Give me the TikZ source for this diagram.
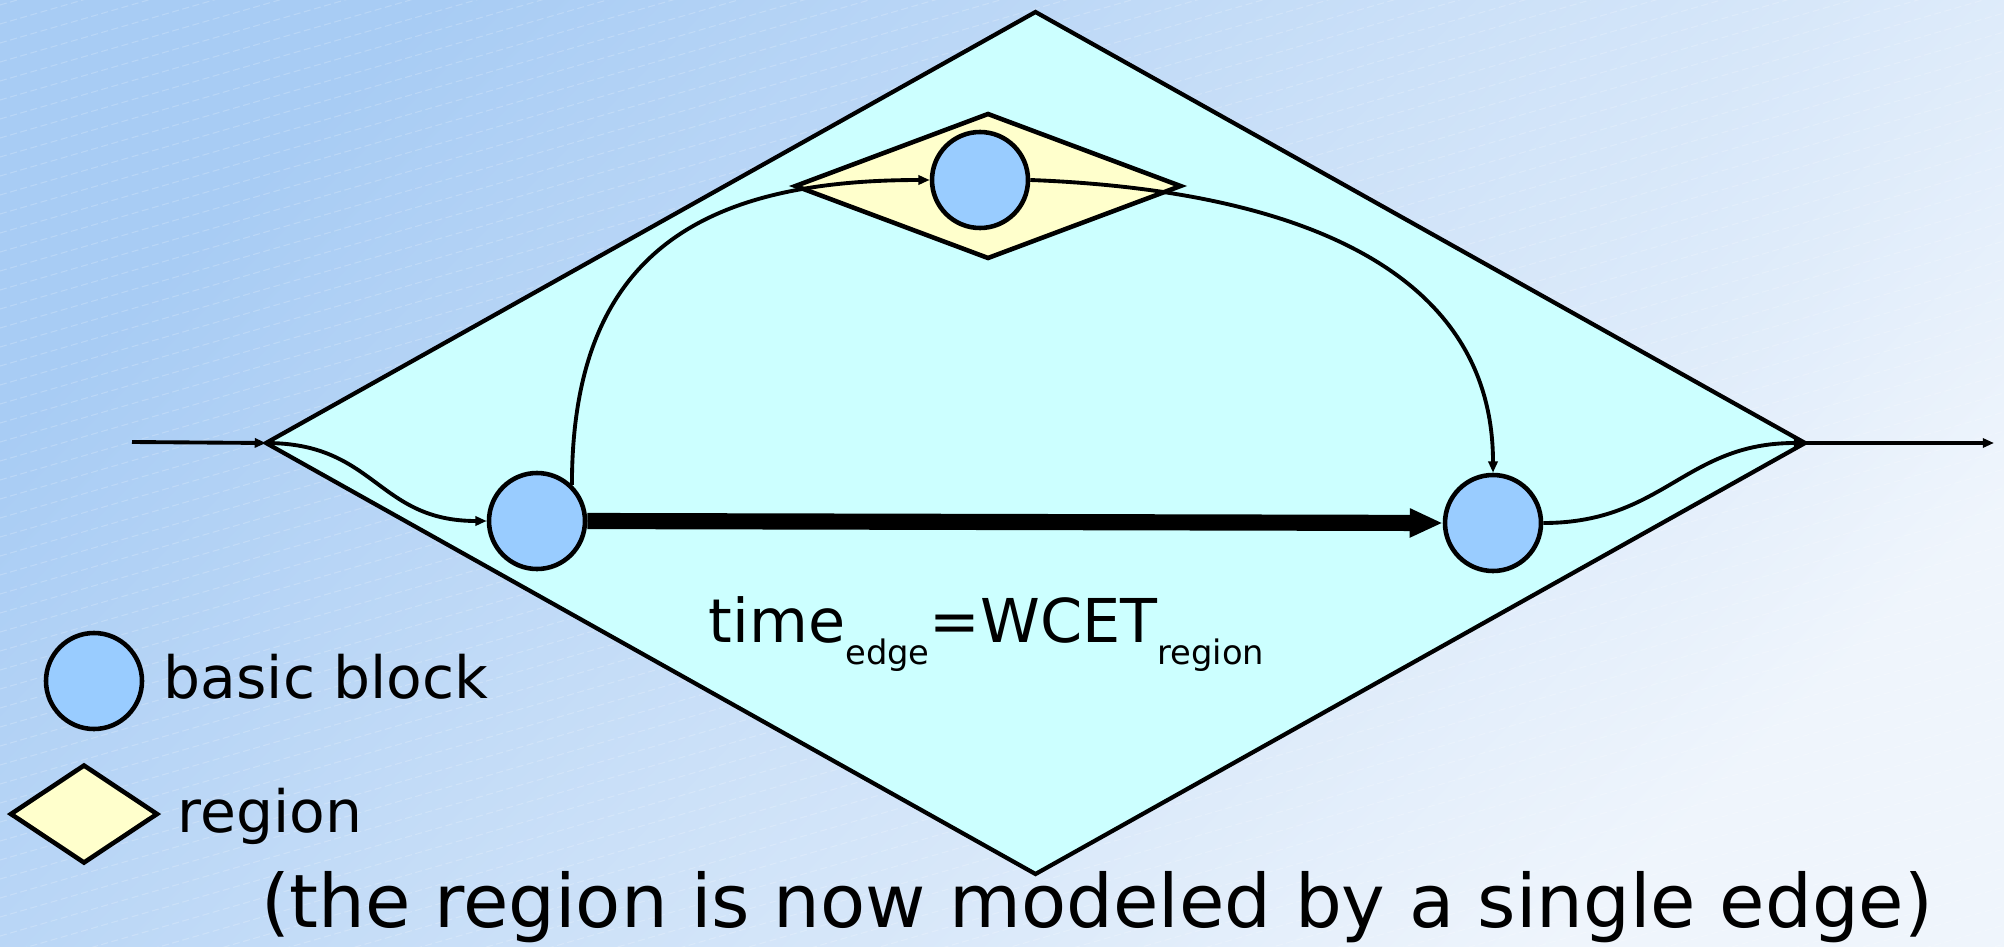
\documentclass[tikz,border=0pt]{standalone}
\usepackage{fontspec}
\setmainfont{DejaVu Sans}
\usepackage{xcolor}
\usepackage{tikz}
\usetikzlibrary{shapes.geometric, arrows.meta, positioning}

\definecolor{bgtop}{HTML}{A8CCF4}
\definecolor{bgbot}{HTML}{EFF5FC}
\definecolor{outerfill}{HTML}{CCFFFF}
\definecolor{regionfill}{HTML}{FFFFCC}
\definecolor{blockfill}{HTML}{99CCFF}

\newcommand{\lowsub}[1]{\raisebox{-6.5pt}{\fontsize{9.6}{10}\selectfont #1}}

\begin{document}
\begin{tikzpicture}[
        blocknode/.style={circle, draw=black, fill=blockfill, line width=1.3pt, minimum size=0.96cm, inner sep=0pt},
        regionnode/.style={diamond, draw=black, fill=regionfill, line width=1.3pt, inner sep=0pt, outer sep=0pt},
        outernode/.style={diamond, draw=black, fill=outerfill, line width=1.2pt, inner sep=0pt, outer sep=0pt, minimum width=15.39cm, minimum height=8.62cm},
        flowline/.style={line width=1.1pt, -{Triangle[length=3.2pt, width=2.6pt]}},
        wcetarrow/.style={line width=4.6pt, -{Triangle[length=0.33cm, width=0.27cm]}},
        legendtext/.style={anchor=base west, inner sep=0pt, font=\fontsize{16.6}{20}\selectfont},
        bgline/.style={white, opacity=0.2, line width=0.3pt, dash pattern=on 2pt off 1pt}
    ]
        % Background
        \useasboundingbox (0,0) rectangle (20.04,9.46);
        \shade[top color=bgtop, bottom color=bgbot, shading angle=45] (0,0) rectangle (20.04,9.46);
        \begin{scope}
            \clip (0,0) rectangle (20.04,9.46);
            \foreach \k in {0,...,82}
                \draw[bgline] (0,9.6-0.19*\k) -- ++(20.04,5.81);
        \end{scope}

        % Collapsed region
        \node[outernode] (outer) at (10.355,5.03) {};
        \node[regionnode, minimum width=3.85cm, minimum height=1.44cm] (rgn) at (9.88,7.60) {};

        % Basic blocks
        \node[blocknode] (bbT) at (9.80,7.66) {};
        \node[blocknode] (bbA) at (5.37,4.25) {};
        \node[blocknode] (bbB) at (14.93,4.23) {};

        % Legend
        \node[blocknode] (keyblock) at (0.94,2.65) {};
        \node[regionnode, minimum width=1.46cm, minimum height=0.97cm] (keyregion) at (0.84,1.32) {};
        \node[legendtext] (keyblocktxt) at (1.63,2.48) {basic block};
        \node[legendtext] (keyregiontxt) at (1.77,1.14) {region};

        % Labels
        \node[anchor=base west, inner sep=0pt, font=\fontsize{17.2}{20}\selectfont] (wcet) at (7.08,3.04) {time\lowsub{edge}=WCET\lowsub{region}};
        \node[anchor=base, inner sep=0pt, font=\fontsize{21}{24}\selectfont] (note) at (10.97,0.19) {(the region is now modeled by a single edge)};

        % Connections
        \coordinate (src) at (1.32,5.04);
        \coordinate (snk) at (19.94,5.03);
        \draw[flowline] (src) -- (outer.west);
        \draw[flowline] (outer.west) .. controls +(1.1,0) and +(-1.1,0) .. (bbA.west);
        \draw[flowline] (bbA.46) .. controls +(0,2.3) and +(-2.3,0) .. (bbT.west);
        \draw[flowline] (bbT.east) .. controls +(2.62,-0.10) and +(0,2.05) .. (bbB.north);
        \draw[flowline] (bbB.east) .. controls +(1.2,0) and +(-1.2,0) .. (outer.east);
        \draw[flowline] (outer.east) -- (snk);
        \draw[wcetarrow] (bbA.east) -- (bbB.west);
    \end{tikzpicture}
\end{document}
